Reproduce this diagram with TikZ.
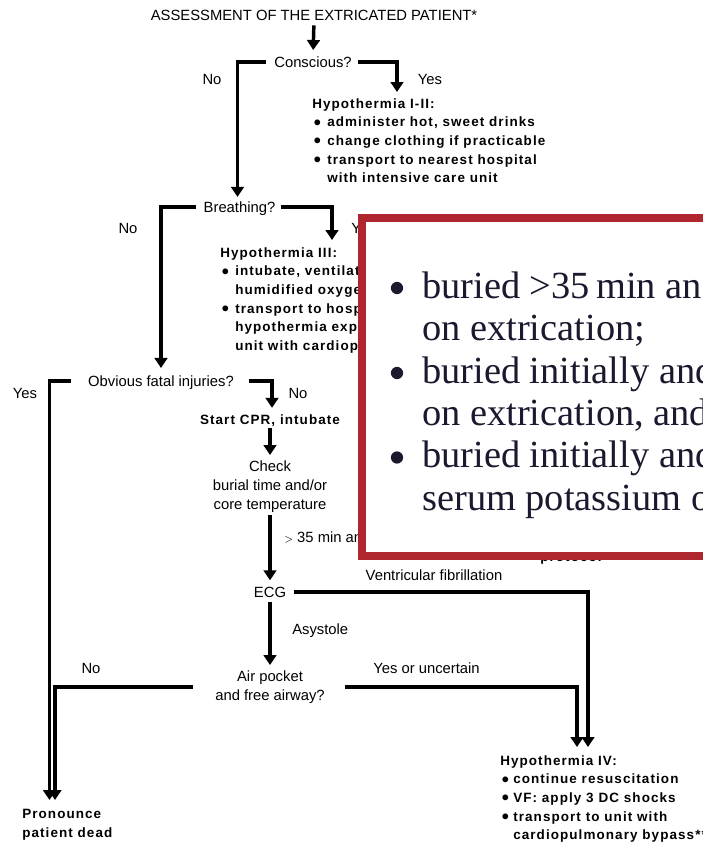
\documentclass[tikz,border=0pt]{standalone}
\usepackage{fontspec}
\setmainfont{Liberation Sans}
\newfontfamily\sbf[LetterSpace=8]{Liberation Sans}
\newfontfamily\boxserif{Liberation Serif}
\usetikzlibrary{arrows.meta}
\definecolor{boxred}{RGB}{176,38,46}
\definecolor{boxink}{RGB}{28,24,46}
\newcommand\regf{\fontsize{11.1pt}{14.25pt}\selectfont}
\newcommand\bldf{\sbf\bfseries\fontsize{10.1pt}{14pt}\selectfont}
\newcommand\serf{\boxserif\fontsize{28.8pt}{32pt}\selectfont}
\newcommand\hbul[1]{\makebox[#1][l]{\hspace{1.2pt}\raisebox{-0.18em}{\scalebox{1.5}{\textbullet}}}}
\tikzset{
  reg/.style={font=\regf, inner sep=0pt},
  bld/.style={font=\bldf, inner sep=0pt},
  boxtxt/.style={font=\serf, text=boxink, inner sep=0pt, anchor=base west},
  arr/.style={line width=2.6pt, -{Triangle[length=7.5pt,width=9.5pt]}},
}
\begin{document}
\begin{tikzpicture}[x=0.75pt,y=-0.75pt]
\useasboundingbox (0,0) rectangle (703,843);
\clip (0,0) rectangle (703,843);

% ---- nodes ----
\node[reg, anchor=base] (title) at (314,20.3) {ASSESSMENT OF THE EXTRICATED PATIENT*};
\node[reg, anchor=base] (cons) at (313,67.3) {Conscious?};
\node[reg, anchor=base] (no1) at (212,84.3) {No};
\node[reg, anchor=base] (yes1) at (430,84.3) {Yes};
\node[bld, anchor=north west, align=left] (h12) at (312,98) {Hypothermia I-II:\\
\hbul{11.25pt}administer hot, sweet drinks\\
\hbul{11.25pt}change clothing if practicable\\
\hbul{11.25pt}transport to nearest hospital\\
\hspace*{11.25pt}with intensive care unit};

\node[reg, anchor=base, text depth=0pt] (breath) at (239.5,212.3) {Breathing?};
\node[reg, anchor=base] (no2) at (128,233.3) {No};
\node[reg, anchor=base west] (yes2) at (351,233.3) {Yes};
\node[bld, anchor=north west, align=left] (h3) at (220,247) {Hypothermia III:\\
\hbul{11.25pt}intubate, ventilate with warmed\\
\hspace*{11.25pt}humidified oxygen\\
\hbul{11.25pt}transport to hospital with\\
\hspace*{11.25pt}hypothermia expertise and\\
\hspace*{11.25pt}unit with cardiopulmonary bypass};

\node[reg, anchor=base, text depth=0pt] (obv) at (161,386.3) {Obvious fatal injuries?};
\node[reg, anchor=base] (yes3) at (25,398.3) {Yes};
\node[reg, anchor=base] (no3) at (298,398.3) {No};
\node[bld, anchor=base] (cpr) at (270,424.8) {Start CPR, intubate};
\node[reg, anchor=north, align=center] (check) at (270,460.5) {Check\\burial time and/or\\core temperature};
\node[reg, anchor=base west] (gt) at (284,542.3) {{\fontsize{8pt}{9pt}\selectfont$>$} 35 min and/or core temperature};
\node[bld, anchor=base west] (proto) at (540,561) {protocol};
\node[reg, anchor=base] (vf) at (434,580.3) {Ventricular fibrillation};
\node[reg, anchor=base] (ecg) at (270,597.3) {ECG};
\node[reg, anchor=base west] (asy) at (292,634.3) {Asystole};
\node[reg, anchor=north, align=center] (air) at (270,670.5) {Air pocket\\and free airway?};
\node[reg, anchor=base] (no4) at (91,673.3) {No};
\node[reg, anchor=base] (yesu) at (426.5,673.3) {Yes or uncertain};
\node[bld, anchor=north west, align=left] (h4) at (500,755) {Hypothermia IV:\\
\hbul{9.75pt}continue resuscitation\\
\hbul{9.75pt}VF: apply 3 DC shocks\\
\hbul{9.75pt}transport to unit with\\
\hspace*{9.75pt}cardiopulmonary bypass**};
\node[bld, anchor=north west, align=left] (dead) at (22,809) {Pronounce\\patient dead};

% ---- connectors ----
\draw[arr, shorten <=3.5pt, shorten >=4.7pt] (title.south) -- (cons.north);
\draw[arr, shorten <=6pt, shorten >=3.3pt] (cons.west) -| ([xshift=-1.5pt]breath.north);
\draw[arr, shorten <=4.5pt, shorten >=4.5pt] (cons.east) -| ([xshift=63.75pt]h12.north west);
\draw[arr, shorten <=5.25pt, shorten >=5.5pt] (breath.west) -| (obv.north);
\draw[arr, shorten <=3.75pt, shorten >=5.25pt] (breath.east) -| ([xshift=84pt]h3.north west);
\draw[arr, shorten <=12.75pt, shorten >=6.75pt] (obv.west) -| ([xshift=20.6pt]dead.north west);
\draw[arr, shorten <=11.25pt, shorten >=5.2pt] (obv.east) -| ([xshift=1.5pt]cpr.north);
\draw[arr, shorten <=1pt, shorten >=4.1pt] (cpr.south) -- (check.north);
\draw[arr, shorten <=1.5pt, shorten >=4.8pt] (check.south) -- (ecg.north);
\draw[arr, shorten <=6pt, shorten >=6pt] (ecg.east) -| ([xshift=66pt]h4.north west);
\draw[arr, shorten <=3.5pt, shorten >=4.1pt] (ecg.south) -- (air.north);
\draw[arr, shorten <=15pt, shorten >=6pt] (air.east) -| ([xshift=57.75pt]h4.north west);
\draw[arr, shorten <=16.5pt, shorten >=6.75pt] (air.west) -| ([xshift=24.75pt]dead.north west);

% ---- overlay box ----
\draw[line width=6pt, draw=boxred, fill=white] (362,218) rectangle (760,556);
\node[boxtxt] (b1) at (422,298) {buried >35\,min and in cardiac arrest};
\node[boxtxt] (b2) at (422,340.5) {on extrication;};
\node[boxtxt] (b3) at (422,383) {buried initially and in cardiac arrest};
\node[boxtxt] (b4) at (422,425) {on extrication, and an initial core};
\node[boxtxt] (b5) at (422,467.5) {buried initially and in cardiac arrest};
\node[boxtxt] (b6) at (422,510) {serum potassium of};
\fill[boxink] (397,288) circle (4.6pt);
\fill[boxink] (397,373) circle (4.6pt);
\fill[boxink] (397,457.5) circle (4.6pt);
\end{tikzpicture}
\end{document}
